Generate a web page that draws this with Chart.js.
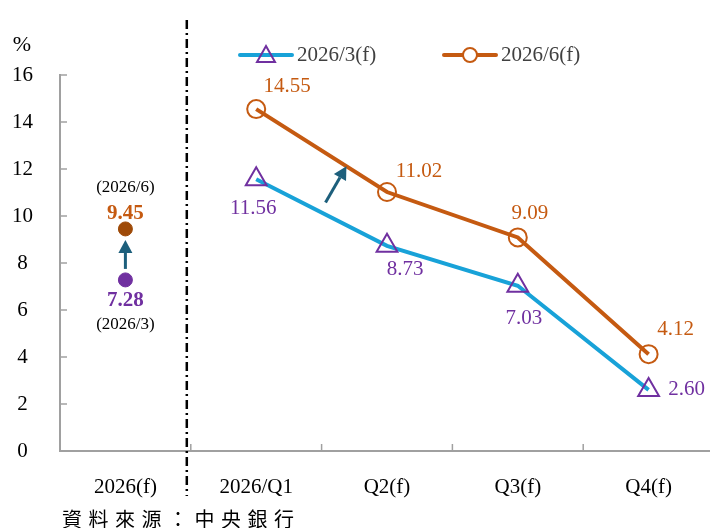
<!DOCTYPE html>
<html>
<head>
<meta charset="utf-8">
<script src="https://cdn.jsdelivr.net/npm/chart.js@4.4.1/dist/chart.umd.min.js"></script>
<style>
  html, body { margin: 0; background: #fff; overflow: hidden; }
  #clip { position: relative; width: 710px; height: 528px; overflow: hidden; }
  /* canvas is wider than the window: the x axis runs past the right edge,
     and the line markers force a 13px right padding in Chart.js */
  #wrap { position: absolute; left: 0; top: 0; width: 728px; height: 528px; }
  #source {
    position: absolute; left: 62px; top: 504px; line-height: 20px;
    font: 20px "Noto Sans CJK TC", sans-serif; letter-spacing: 6.5px; color: #000;
  }
</style>
</head>
<body>
<div id="clip">
  <div id="wrap"><canvas id="chart"></canvas></div>
  <div id="source">資料來源：中央銀行</div>
</div>
<script>
// categories and values
const categories = ['2026(f)', '2026/Q1', 'Q2(f)', 'Q3(f)', 'Q4(f)'];
const yTicks = [0, 2, 4, 6, 8, 10, 12, 14, 16];
const march = [null, 11.56, 8.73, 7.03, 2.60];   // 2026/3(f)
const june = [null, 14.55, 11.02, 9.09, 4.12];    // 2026/6(f)
const annualMarch = [7.28, null, null, null, null];
const annualJune = [9.45, null, null, null, null];

const SERIF = '"Liberation Serif", "Times New Roman", serif';
const BLUE = '#18a2d8';
const PURPLE = '#7030a0';
const ORANGE = '#c55a11';
const BROWN = '#9e4a08';
const TEAL = '#1d5f7c';
const AXIS = '#a0a0a0';

// label offsets (px) from each point
const juneOffsets = [null, [31, -23], [32, -21], [12, -24], [27, -25]];
const marchOffsets = [null, [-3, 29], [18, 24], [6, 33], [38, 0]];

function arrow(ctx, x0, y0, x1, y1, color) {
    const ang = Math.atan2(y1 - y0, x1 - x0);
    const head = 13, half = 7;
    const bx = x1 - head * Math.cos(ang), by = y1 - head * Math.sin(ang);
    ctx.save();
    ctx.strokeStyle = color; ctx.fillStyle = color; ctx.lineWidth = 3;
    ctx.beginPath(); ctx.moveTo(x0, y0); ctx.lineTo(bx, by); ctx.stroke();
    ctx.beginPath();
    ctx.moveTo(x1, y1);
    ctx.lineTo(bx + half * Math.sin(ang), by - half * Math.cos(ang));
    ctx.lineTo(bx - half * Math.sin(ang), by + half * Math.cos(ang));
    ctx.closePath(); ctx.fill();
    ctx.restore();
}

const decorations = {
    id: 'decorations',
    afterDraw(chart) {
        const ctx = chart.ctx;
        const x = chart.scales.x, y = chart.scales.y;
        const area = chart.chartArea;

        // axis ticks pointing inward
        ctx.save();
        ctx.strokeStyle = AXIS; ctx.lineWidth = 1.5;
        yTicks.forEach(v => {
            const py = y.getPixelForValue(v);
            ctx.beginPath(); ctx.moveTo(area.left, py); ctx.lineTo(area.left + 7, py); ctx.stroke();
        });
        for (let i = 1; i < categories.length; i++) {
            const px = (x.getPixelForValue(i - 1) + x.getPixelForValue(i)) / 2;
            ctx.beginPath(); ctx.moveTo(px, area.bottom); ctx.lineTo(px, area.bottom - 7); ctx.stroke();
        }
        ctx.restore();

        // x category labels
        ctx.save();
        ctx.fillStyle = '#000'; ctx.font = '21px ' + SERIF;
        ctx.textAlign = 'center'; ctx.textBaseline = 'middle';
        categories.forEach((c, i) => ctx.fillText(c, x.getPixelForValue(i), area.bottom + 36));
        ctx.restore();

        // dash-dot separator, just left of the first category boundary
        const sepX = (x.getPixelForValue(0) + x.getPixelForValue(1)) / 2 - 4;
        ctx.save();
        ctx.strokeStyle = '#000'; ctx.lineWidth = 2.5;
        ctx.setLineDash([9, 4, 2, 4]);
        ctx.beginPath(); ctx.moveTo(sepX, 20); ctx.lineTo(sepX, 496); ctx.stroke();
        ctx.restore();

        ctx.save();
        ctx.textAlign = 'center'; ctx.textBaseline = 'middle';

        // % unit
        ctx.fillStyle = '#000'; ctx.font = '22px ' + SERIF;
        ctx.fillText('%', 22, 45);

        // value labels
        ctx.font = '21px ' + SERIF;
        june.forEach((v, i) => {
            if (v === null) return;
            ctx.fillStyle = ORANGE;
            ctx.fillText(v.toFixed(2), x.getPixelForValue(i) + juneOffsets[i][0], y.getPixelForValue(v) + juneOffsets[i][1]);
        });
        march.forEach((v, i) => {
            if (v === null) return;
            ctx.fillStyle = PURPLE;
            const off = marchOffsets[i];
            ctx.fillText(v.toFixed(2), x.getPixelForValue(i) + off[0], y.getPixelForValue(v) + off[1]);
        });

        // annual points labels
        const ax = x.getPixelForValue(0);
        const pJ = y.getPixelForValue(annualJune[0]);
        const pM = y.getPixelForValue(annualMarch[0]);
        ctx.font = 'bold 21px ' + SERIF;
        ctx.fillStyle = ORANGE; ctx.fillText(annualJune[0].toFixed(2), ax, pJ - 15);
        ctx.fillStyle = PURPLE; ctx.fillText(annualMarch[0].toFixed(2), ax, pM + 21);
        ctx.font = '17px ' + SERIF; ctx.fillStyle = '#000';
        ctx.fillText('(2026/6)', ax, pJ - 41);
        ctx.fillText('(2026/3)', ax, pM + 45);
        ctx.restore();

        // arrows
        arrow(ctx, ax, pM - 11, ax, pJ + 11, TEAL);
        const lerp = (arr, t) => arr[1] + (arr[2] - arr[1]) * t;
        const x1 = x.getPixelForValue(1), x2 = x.getPixelForValue(2);
        const t0 = 0.53, t1 = 0.69;
        arrow(ctx, x1 + (x2 - x1) * t0, y.getPixelForValue(lerp(march, t0)) - 12,
              x1 + (x2 - x1) * t1, y.getPixelForValue(lerp(june, t1)), TEAL);

        // legend
        ctx.save();
        ctx.lineCap = 'round';
        ctx.lineWidth = 4;
        ctx.strokeStyle = BLUE;
        ctx.beginPath(); ctx.moveTo(240, 55); ctx.lineTo(292, 55); ctx.stroke();
        ctx.strokeStyle = PURPLE; ctx.lineWidth = 2; ctx.lineCap = 'butt';
        ctx.beginPath(); ctx.moveTo(266, 46); ctx.lineTo(275, 62); ctx.lineTo(257, 62); ctx.closePath(); ctx.stroke();
        ctx.lineWidth = 4; ctx.strokeStyle = ORANGE; ctx.lineCap = 'round';
        ctx.beginPath(); ctx.moveTo(444, 55); ctx.lineTo(496, 55); ctx.stroke();
        ctx.fillStyle = '#fff'; ctx.lineWidth = 2;
        ctx.beginPath(); ctx.arc(470, 55, 7, 0, Math.PI * 2); ctx.fill(); ctx.stroke();
        ctx.fillStyle = '#404040'; ctx.font = '21px ' + SERIF;
        ctx.textAlign = 'left'; ctx.textBaseline = 'middle';
        ctx.fillText('2026/3(f)', 297, 55);
        ctx.fillText('2026/6(f)', 501, 55);
        ctx.restore();
    }
};

new Chart(document.getElementById('chart'), {
    type: 'line',
    data: {
        labels: categories,
        datasets: [
            {
                label: '2026/3(f)', data: march, borderColor: BLUE, borderWidth: 4,
                pointStyle: 'triangle', pointRadius: 12, pointBorderColor: PURPLE,
                pointBorderWidth: 2, pointBackgroundColor: 'rgba(0,0,0,0)', tension: 0
            },
            {
                label: '2026/6(f)', data: june, borderColor: ORANGE, borderWidth: 4,
                pointStyle: 'circle', pointRadius: 9, pointBorderColor: ORANGE,
                pointBorderWidth: 2, pointBackgroundColor: 'rgba(0,0,0,0)', tension: 0
            },
            {
                label: 'annual 2026/3', data: annualMarch, showLine: false,
                pointRadius: 7, pointBackgroundColor: PURPLE, pointBorderColor: PURPLE
            },
            {
                label: 'annual 2026/6', data: annualJune, showLine: false,
                pointRadius: 7, pointBackgroundColor: BROWN, pointBorderColor: BROWN
            }
        ]
    },
    options: {
        responsive: true,
        maintainAspectRatio: false,
        animation: false,
        layout: { padding: { top: 75, right: 0, left: 0, bottom: 0 } },
        plugins: { legend: { display: false }, tooltip: { enabled: false } },
        scales: {
            x: {
                offset: true,
                grid: { display: false, drawTicks: false },
                border: { display: true, color: AXIS, width: 2 },
                ticks: { display: false, padding: 0 },
                afterFit(scale) { scale.height = 77; }
            },
            y: {
                min: 0, max: 16,
                afterBuildTicks(scale) { scale.ticks = yTicks.map(v => ({ value: v })); },
                grid: { display: false, drawTicks: false },
                border: { display: true, color: AXIS, width: 2 },
                ticks: {
                    color: '#000', font: { family: SERIF, size: 21 },
                    padding: 27, crossAlign: 'center'
                },
                afterFit(scale) { scale.width = 60; }
            }
        }
    },
    plugins: [decorations]
});
</script>
</body>
</html>
